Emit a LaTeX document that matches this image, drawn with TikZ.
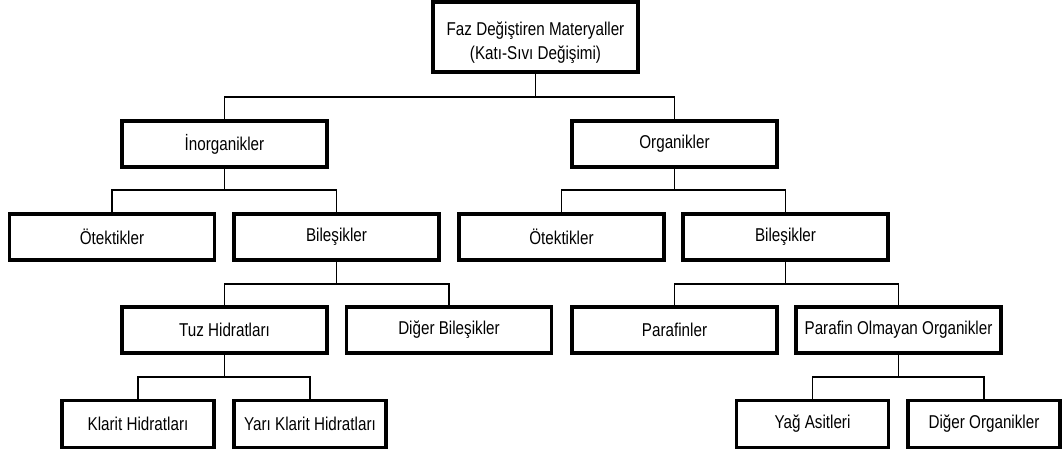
\documentclass[tikz,border=0pt]{standalone}
\usepackage{fontspec}
\setmainfont{Liberation Sans}[FakeStretch=0.82]
\tikzset{
    kutu/.style={draw, line width=2.3pt, minimum width=5.125cm, minimum height=1.15cm,
        inner sep=0pt, align=center, font=\fontsize{13.2}{17}\selectfont},
    kucuk/.style={kutu, minimum width=3.8cm, minimum height=1.18cm},
    bag/.style={line width=0.8pt}
}
\begin{document}
\begin{tikzpicture}[x=0.025cm, y=-0.025cm]
        \useasboundingbox (0, 0) rectangle (1062, 454);

        % kok
        \node[kutu, minimum height=1.75cm] (kok) at (535.5, 37) {\rule{0pt}{18pt}Faz Değiştiren Materyaller\\(Katı-Sıvı Değişimi)};

        % 1. seviye
        \node[kutu] (inorg) at (224.5, 144) {İnorganikler};
        \node[kutu] (org)   at (674.5, 144) {Organikler};

        % 2. seviye
        \node[kutu] (otek1) at (112, 237)   {Ötektikler};
        \node[kutu] (bil1)  at (336.5, 237) {Bileşikler};
        \node[kutu] (otek2) at (561.5, 237) {Ötektikler};
        \node[kutu] (bil2)  at (785.5, 237) {Bileşikler};

        % 3. seviye
        \node[kutu] (tuz)    at (224.5, 330) {Tuz Hidratları};
        \node[kutu] (digbil) at (449, 330)   {Diğer Bileşikler};
        \node[kutu] (paraf)  at (674.5, 330) {Parafinler};
        \node[kutu] (parol)  at (898.5, 330) {Parafin Olmayan Organikler};

        % 4. seviye
        \node[kucuk] (klarit) at (138, 424)   {Klarit Hidratları};
        \node[kucuk] (yari)   at (310, 424)   {Yarı Klarit Hidratları};
        \node[kucuk] (yag)    at (812.5, 424) {Yağ Asitleri};
        \node[kucuk] (digorg) at (984, 424)   {Diğer Organikler};

        \coordinate (b0) at (535.5, 97);
        \coordinate (b1) at (224.5, 190);
        \coordinate (b2) at (674.5, 190);
        \coordinate (b3) at (336.5, 284);
        \coordinate (b4) at (785.5, 284);
        \coordinate (b5) at (224.5, 377);
        \coordinate (b6) at (898.5, 377);

        \draw[bag] (kok.south) -- (b0);
        \draw[bag] (inorg.north) |- (b0) -| (org.north);
        \draw[bag] (inorg.south) -- (b1);
        \draw[bag] (otek1.north) |- (b1) -| (bil1.north);
        \draw[bag] (org.south) -- (b2);
        \draw[bag] (otek2.north) |- (b2) -| (bil2.north);
        \draw[bag] (bil1.south) -- (b3);
        \draw[bag] (tuz.north) |- (b3) -| (digbil.north);
        \draw[bag] (bil2.south) -- (b4);
        \draw[bag] (paraf.north) |- (b4) -| (parol.north);
        \draw[bag] (tuz.south) -- (b5);
        \draw[bag] (klarit.north) |- (b5) -| (yari.north);
        \draw[bag] (parol.south) -- (b6);
        \draw[bag] (yag.north) |- (b6) -| (digorg.north);
    \end{tikzpicture}
\end{document}
